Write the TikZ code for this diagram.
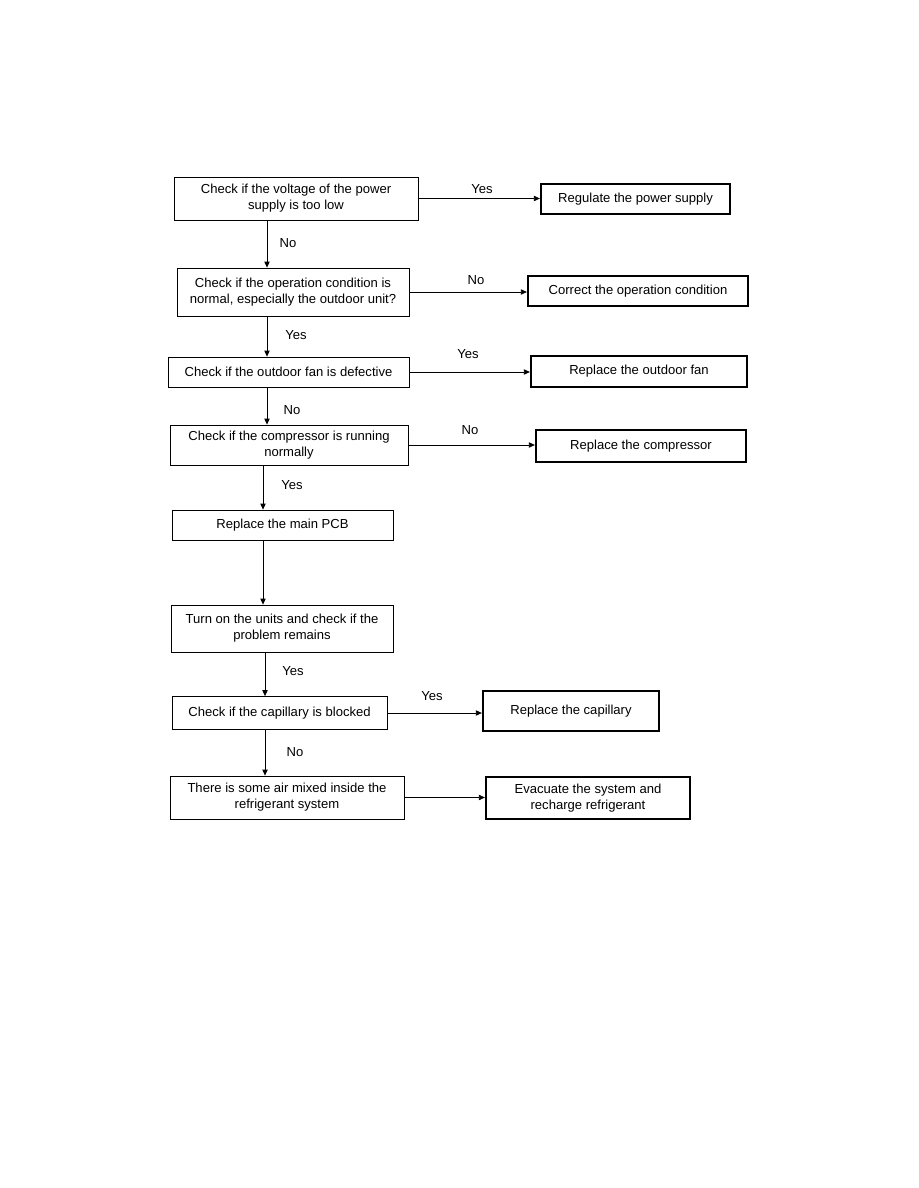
\documentclass[tikz,border=0pt]{standalone}
\usepackage{fontspec}
\setmainfont{Liberation Sans}
\usetikzlibrary{positioning,arrows.meta}

\tikzset{
  stepbox/.style={draw,line width=0.6pt,inner sep=0pt,align=center,font=\fontsize{9.8}{12}\selectfont},
  fixbox/.style={stepbox,line width=1.7pt},
  lbl/.style={font=\fontsize{9.8}{12}\selectfont,inner sep=0pt},
  arr/.style={-{Triangle[length=4.5pt,width=4pt]},line width=0.6pt}
}

\begin{document}
\begin{tikzpicture}[x=0.75pt,y=-0.75pt]
  \useasboundingbox (0,0) rectangle (918,1188);
  \node[stepbox,minimum width=244*0.75pt,minimum height=43*0.75pt] (volt) at (296,198.5) {Check if the voltage of the power\\supply is too low};
  \node[fixbox,minimum width=189*0.75pt,minimum height=30*0.75pt] (regulate) at (635.5,199) {Regulate the power supply};
  \node[stepbox,minimum width=232*0.75pt,minimum height=48*0.75pt] (oper) at (293,292) {Check if the operation condition is\\normal, especially the outdoor unit?};
  \node[fixbox,minimum width=220*0.75pt,minimum height=30*0.75pt] (correct) at (638,291) {Correct the operation condition};
  \node[stepbox,minimum width=241*0.75pt,minimum height=30*0.75pt] (fan) at (288.5,372) {Check if the outdoor fan is defective};
  \node[fixbox,minimum width=216*0.75pt,minimum height=31*0.75pt] (newfan) at (639,371.5) {Replace the outdoor fan};
  \node[stepbox,minimum width=238*0.75pt,minimum height=40*0.75pt] (comp) at (289,445) {Check if the compressor is running\\normally};
  \node[fixbox,minimum width=210*0.75pt,minimum height=32*0.75pt] (newcomp) at (641,446) {Replace the compressor};
  \node[stepbox,minimum width=221*0.75pt,minimum height=30*0.75pt] (pcb) at (282.5,525) {Replace the main PCB};
  \node[stepbox,minimum width=222*0.75pt,minimum height=47*0.75pt] (turnon) at (282,628.5) {Turn on the units and check if the\\problem remains};
  \node[stepbox,minimum width=215*0.75pt,minimum height=33*0.75pt] (capil) at (279.5,713) {Check if the capillary is blocked};
  \node[fixbox,minimum width=176*0.75pt,minimum height=40*0.75pt] (newcapil) at (571,711) {Replace the capillary};
  \node[stepbox,minimum width=234*0.75pt,minimum height=43*0.75pt] (air) at (287,797.5) {There is some air mixed inside the\\refrigerant system};
  \node[fixbox,minimum width=204*0.75pt,minimum height=42*0.75pt] (evac) at (588,798) {Evacuate the system and\\recharge refrigerant};

  \draw[arr] (volt.east) -- (volt.east -| regulate.west);
  \draw[arr] (oper.east) -- (oper.east -| correct.west);
  \draw[arr] (fan.east) -- (fan.east -| newfan.west);
  \draw[arr] (comp.east) -- (comp.east -| newcomp.west);
  \draw[arr] (capil.east) -- (capil.east -| newcapil.west);
  \draw[arr] (air.east) -- (air.east -| evac.west);

  \draw[arr] (volt.south -| 267,0) -- (oper.north -| 267,0);
  \draw[arr] (oper.south -| 267,0) -- (fan.north -| 267,0);
  \draw[arr] (fan.south -| 267,0) -- (comp.north -| 267,0);
  \draw[arr] (comp.south -| 263,0) -- (pcb.north -| 263,0);
  \draw[arr] (pcb.south -| 263,0) -- (turnon.north -| 263,0);
  \draw[arr] (turnon.south -| 265,0) -- (capil.north -| 265,0);
  \draw[arr] (capil.south -| 265,0) -- (air.north -| 265,0);

  \node[lbl] (y1) at (482,189) {Yes};
  \node[lbl] (n1) at (288,243) {No};
  \node[lbl] (n2) at (476,280) {No};
  \node[lbl] (y2) at (296,335) {Yes};
  \node[lbl] (y3) at (468,354) {Yes};
  \node[lbl] (n3) at (292,410) {No};
  \node[lbl] (n4) at (470,430) {No};
  \node[lbl] (y4) at (292,485) {Yes};
  \node[lbl] (y5) at (293,671) {Yes};
  \node[lbl] (y6) at (432,696) {Yes};
  \node[lbl] (n5) at (295,752) {No};
\end{tikzpicture}
\end{document}
